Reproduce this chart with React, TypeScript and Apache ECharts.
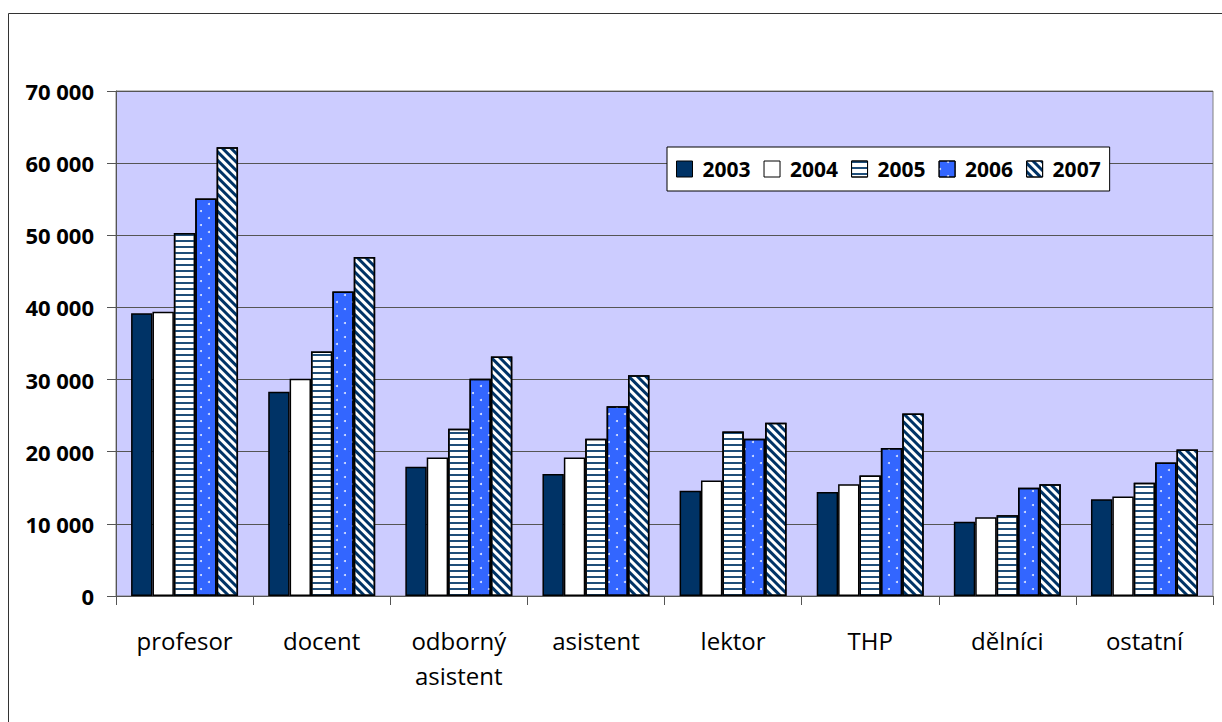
import React, { useEffect, useRef } from "react";
import * as echarts from "echarts";

const categories = ["profesor", "docent", "odborný\nasistent", "asistent", "lektor", "THP", "dělníci", "ostatní"];
const years = ["2003", "2004", "2005", "2006", "2007"];
const values2003 = [39200, 28300, 17900, 16900, 14600, 14400, 10300, 13400];
const values2004 = [39400, 30100, 19200, 19200, 16000, 15500, 10900, 13800];
const values2005 = [50300, 33900, 23200, 21800, 22800, 16700, 11200, 15700];
const values2006 = [55100, 42200, 30100, 26300, 21800, 20500, 15000, 18500];
const values2007 = [62200, 47000, 33200, 30600, 24000, 25300, 15500, 20300];
const yTicks = { min: 0, max: 70000, interval: 10000 };

const FONT = "'Open Sans', 'DejaVu Sans', sans-serif";

export default function App() {
  const ref = useRef<HTMLDivElement>(null);
  useEffect(() => {
    if (!ref.current) return;
    const chart = echarts.init(ref.current, undefined, { renderer: "svg" });
    const seriesData = [values2003, values2004, values2005, values2006, values2007];
    const styles: any[] = [
      { color: "#003366" },
      { color: "#ffffff" },
      {
        color: "#ffffff",
        decal: { symbol: "rect", symbolSize: 1, color: "#1f4e79", dashArrayX: [1, 0], dashArrayY: [2, 4], rotation: 0 },
      },
      {
        color: "#3366ff",
        decal: {
          symbol: "circle",
          symbolSize: 1,
          color: "#dde6ff",
          dashArrayX: [[1.5, 13.5], [0, 7.5, 1.5, 6]],
          dashArrayY: [1.5, 5],
          rotation: 0,
        },
      },
      {
        color: "#ffffff",
        decal: { symbol: "rect", symbolSize: 1, color: "#003366", dashArrayX: [1, 0], dashArrayY: [2.8, 2.8], rotation: Math.PI / 4 },
      },
    ];
    chart.setOption({
      animation: false,
      backgroundColor: "#ffffff",
      textStyle: { fontFamily: FONT },
      graphic: [
        {
          type: "rect",
          shape: { x: 8.5, y: 13.5, width: 1400, height: 900 },
          style: { fill: "none", stroke: "#333", lineWidth: 1 },
          silent: true,
          z: 100,
        },
      ],
      grid: {
        left: 116,
        right: 9,
        top: 91,
        bottom: 126,
        show: true,
        backgroundColor: "#ccccff",
        borderColor: "#808080",
        borderWidth: 1,
      },
      legend: {
        left: 667,
        top: 147,
        data: years.map((y) => ({ name: y, icon: "rect" })),
        itemWidth: 16,
        itemHeight: 16,
        itemGap: 13,
        padding: [11, 9, 11, 9],
        backgroundColor: "#ffffff",
        borderColor: "#000",
        borderWidth: 1,
        borderRadius: 0,
        itemStyle: { borderColor: "#000", borderWidth: 1 },
        textStyle: { fontFamily: FONT, fontWeight: "bold", fontSize: 21, color: "#000", lineHeight: 22, padding: [0, 0, 0, 5] },
      },
      xAxis: {
        type: "category",
        data: categories,
        axisLine: { lineStyle: { color: "#555", width: 1 } },
        axisTick: { show: true, length: 9, lineStyle: { color: "#555" } },
        axisLabel: { fontFamily: FONT, fontSize: 24, color: "#000", lineHeight: 35, margin: 27, interval: 0 },
      },
      yAxis: {
        type: "value",
        min: yTicks.min,
        max: yTicks.max,
        interval: yTicks.interval,
        axisLine: { show: true, lineStyle: { color: "#555", width: 1 } },
        axisTick: { show: true, length: 9, lineStyle: { color: "#555" } },
        splitLine: { show: true, lineStyle: { color: "#555", width: 1 } },
        axisLabel: {
          fontFamily: FONT,
          fontSize: 22,
          fontWeight: "bold",
          color: "#000",
          margin: 22,
          formatter: (v: number) => (v === 0 ? "0" : `${v / 1000} 000`),
        },
      },
      series: years.map((y, i) => ({
        name: y,
        type: "bar",
        data: seriesData[i],
        barGap: "0%",
        barCategoryGap: "22%",
        itemStyle: { ...styles[i], borderColor: "#000", borderWidth: 1.5 },
      })),
    });
    return () => chart.dispose();
  }, []);
  return <div ref={ref} style={{ position: "fixed", left: 0, top: 0, width: 1222, height: 722 }} />;
}
